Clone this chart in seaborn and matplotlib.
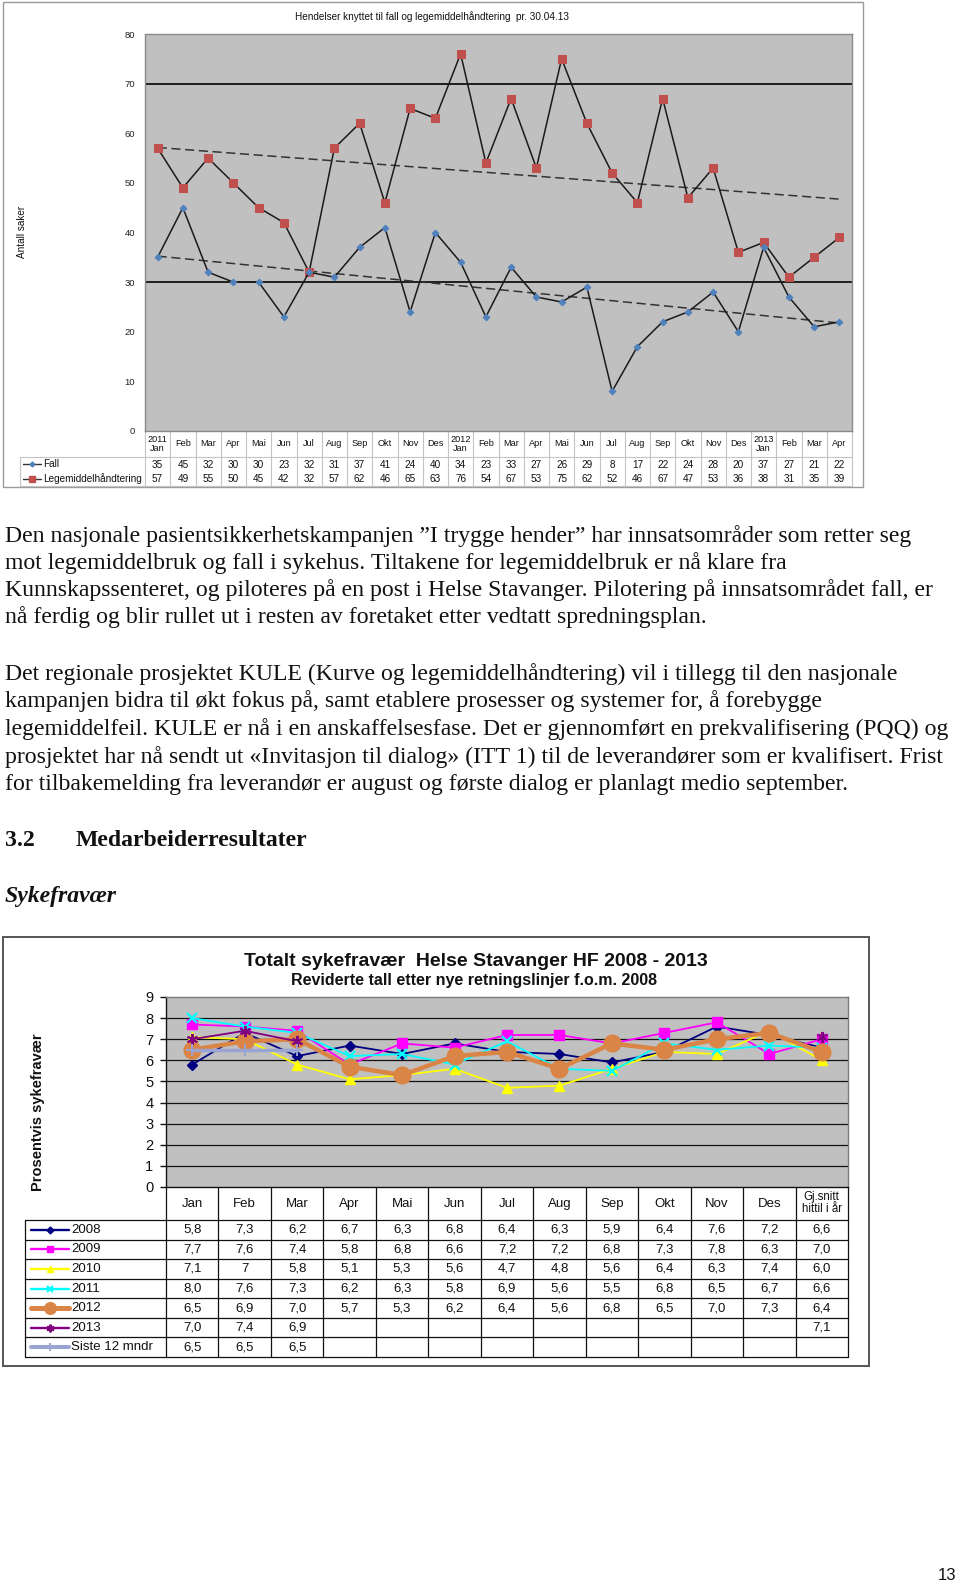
import numpy as np
import pandas as pd
import matplotlib
matplotlib.use("Agg")
import matplotlib.pyplot as plt
import matplotlib.transforms as mtrans
from matplotlib.patches import Rectangle
import seaborn as sns

sns.set_theme(style="white")
plt.rcParams["font.family"] = ["Liberation Sans", "DejaVu Sans"]

# ---------------- data: top chart ----------------
top_months = ["2011\nJan", "Feb", "Mar", "Apr", "Mai", "Jun", "Jul", "Aug", "Sep", "Okt", "Nov", "Des",
              "2012\nJan", "Feb", "Mar", "Apr", "Mai", "Jun", "Jul", "Aug", "Sep", "Okt", "Nov", "Des",
              "2013\nJan", "Feb", "Mar", "Apr"]
fall = [35, 45, 32, 30, 30, 23, 32, 31, 37, 41, 24, 40,
        34, 23, 33, 27, 26, 29, 8, 17, 22, 24, 28, 20,
        37, 27, 21, 22]
legemiddel = [57, 49, 55, 50, 45, 42, 32, 57, 62, 46, 65, 63,
              76, 54, 67, 53, 75, 62, 52, 46, 67, 47, 53, 36,
              38, 31, 35, 39]
top_title = "Hendelser knyttet til fall og legemiddelhåndtering  pr. 30.04.13"

# ---------------- data: bottom chart ----------------
bot_cats = ["Jan", "Feb", "Mar", "Apr", "Mai", "Jun", "Jul", "Aug", "Sep", "Okt", "Nov", "Des",
            "Gj.snitt\nhittil i år"]
y2008 = [5.8, 7.3, 6.2, 6.7, 6.3, 6.8, 6.4, 6.3, 5.9, 6.4, 7.6, 7.2, 6.6]
y2009 = [7.7, 7.6, 7.4, 5.8, 6.8, 6.6, 7.2, 7.2, 6.8, 7.3, 7.8, 6.3, 7.0]
y2010 = [7.1, 7.0, 5.8, 5.1, 5.3, 5.6, 4.7, 4.8, 5.6, 6.4, 6.3, 7.4, 6.0]
y2011 = [8.0, 7.6, 7.3, 6.2, 6.3, 5.8, 6.9, 5.6, 5.5, 6.8, 6.5, 6.7, 6.6]
y2012 = [6.5, 6.9, 7.0, 5.7, 5.3, 6.2, 6.4, 5.6, 6.8, 6.5, 7.0, 7.3, 6.4]
y2013 = [7.0, 7.4, 6.9, None, None, None, None, None, None, None, None, None, 7.1]
siste12 = [6.5, 6.5, 6.5, None, None, None, None, None, None, None, None, None, None]
series_names = ["2008", "2009", "2010", "2011", "2012", "2013", "Siste 12 mndr"]
series_vals = [y2008, y2009, y2010, y2011, y2012, y2013, siste12]

# ---------------- page text ----------------
para1 = ["Den nasjonale pasientsikkerhetskampanjen \u201dI trygge hender\u201d har innsatsområder som retter seg",
         "mot legemiddelbruk og fall i sykehus. Tiltakene for legemiddelbruk er nå klare fra",
         "Kunnskapssenteret, og piloteres på en post i Helse Stavanger. Pilotering på innsatsområdet fall, er",
         "nå ferdig og blir rullet ut i resten av foretaket etter vedtatt spredningsplan."]
para2 = ["Det regionale prosjektet KULE (Kurve og legemiddelhåndtering) vil i tillegg til den nasjonale",
         "kampanjen bidra til økt fokus på, samt etablere prosesser og systemer for, å forebygge",
         "legemiddelfeil. KULE er nå i en anskaffelsesfase. Det er gjennomført en prekvalifisering (PQQ) og",
         "prosjektet har nå sendt ut «Invitasjon til dialog» (ITT 1) til de leverandører som er kvalifisert. Frist",
         "for tilbakemelding fra leverandør er august og første dialog er planlagt medio september."]

W, H = 960, 1584
fig = plt.figure(figsize=(W / 100, H / 100), dpi=100)
fig.patch.set_facecolor("white")


def rect(x0, y0, x1, y1):
    return [x0 / W, 1 - y1 / H, (x1 - x0) / W, (y1 - y0) / H]


pg = fig.add_axes([0, 0, 1, 1])
pg.set_xlim(0, W)
pg.set_ylim(H, 0)
pg.axis("off")

# ================= TOP CHART =================
pg.add_patch(Rectangle((3, 2), 860, 485, fill=False, ec="#9a9a9a", lw=1.0))
ax1 = fig.add_axes(rect(145, 34, 852, 431))
ax1.set_facecolor("#C0C0C0")
x_top = np.arange(len(top_months))
df_top = pd.DataFrame({"x": x_top, "fall": fall, "lege": legemiddel})

ax1.axhline(30, color="#111111", lw=1.3, zorder=1)
ax1.axhline(70, color="#111111", lw=1.3, zorder=1)

for col, mk, mc, ms in [("lege", "s", "#C0504D", 5.2), ("fall", "D", "#4F81BD", 3.4)]:
    sns.lineplot(data=df_top, x="x", y=col, ax=ax1, color="#1a1a1a", lw=1.1,
                 marker=mk, markersize=ms, markerfacecolor=mc, markeredgecolor=mc, zorder=3)
    coef = np.polyfit(df_top["x"], df_top[col], 1)
    df_top[col + "_trend"] = np.polyval(coef, df_top["x"])
    sns.lineplot(data=df_top, x="x", y=col + "_trend", ax=ax1, color="#333333", lw=1.1,
                 linestyle=(0, (6, 3)), zorder=2)

ax1.set_xlim(-0.5, len(top_months) - 0.5)
ax1.set_ylim(0, 80)
ax1.set_yticks(range(0, 81, 10))
ax1.set_xticks([])
ax1.set_xlabel("")
ax1.set_ylabel("")
ax1.tick_params(axis="y", length=0, labelsize=6.8, labelcolor="#222222", pad=7)
for s in ax1.spines.values():
    s.set_color("#8a8a8a")
    s.set_linewidth(1.0)

pg.text(432, 17, top_title, ha="center", va="center", fontsize=7.2, color="#111111")
pg.text(22, 232, "Antall saker", rotation=90, ha="center", va="center", fontsize=7.2, color="#111111")

# table under top chart
tr1 = mtrans.blended_transform_factory(ax1.transData, pg.transData)
gc = "#C4C4C4"
pg.plot([20, 852], [457, 457], color=gc, lw=0.8)
pg.plot([20, 852], [486, 486], color=gc, lw=0.8)
pg.plot([20, 20], [457, 486], color=gc, lw=0.8)
for i in range(len(top_months) + 1):
    ax1.plot([i - 0.5, i - 0.5], [431, 486], color=gc, lw=0.8, transform=tr1, clip_on=False)
for i, m in enumerate(top_months):
    ax1.text(i, 444, m, transform=tr1, ha="center", va="center", fontsize=6.6, color="#111111",
             linespacing=0.95, clip_on=False)
    ax1.text(i, 465, str(fall[i]), transform=tr1, ha="center", va="center", fontsize=7.2, color="#111111")
    ax1.text(i, 479, str(legemiddel[i]), transform=tr1, ha="center", va="center", fontsize=7.2, color="#111111")
pg.plot([23, 41], [464, 464], color="#333333", lw=1.0)
pg.plot([32], [464], marker="D", ms=2.5, color="#4F81BD")
pg.text(43, 464, "Fall", ha="left", va="center", fontsize=7.2, color="#111111")
pg.plot([23, 41], [479, 479], color="#333333", lw=1.0)
pg.plot([32], [479], marker="s", ms=4, color="#C0504D")
pg.text(43, 479, "Legemiddelhåndtering", ha="left", va="center", fontsize=7.2, color="#111111")

# ================= PAGE TEXT =================
serif = ["Liberation Serif", "DejaVu Serif"]
fig.canvas.draw()
renderer = fig.canvas.get_renderer()
probe = pg.text(5, 534, para1[0], fontsize=14, family=serif)
wpx = probe.get_window_extent(renderer).width
probe.remove()
fs = 14 * 912 / wpx

ys1 = [534, 561, 588, 615]
ys2 = [672, 699, 727, 755, 782]
for y, line in zip(ys1, para1):
    pg.text(5, y, line, fontsize=fs, family=serif, ha="left", va="center_baseline", color="#111111")
for y, line in zip(ys2, para2):
    pg.text(5, y, line, fontsize=fs, family=serif, ha="left", va="center_baseline", color="#111111")
pg.text(5, 838, "3.2", fontsize=fs, family=serif, fontweight="bold", ha="left",
        va="center_baseline", color="#111111")
pg.text(76, 838, "Medarbeiderresultater", fontsize=fs, family=serif, fontweight="bold",
        ha="left", va="center_baseline", color="#111111")
pg.text(5, 894, "Sykefravær", fontsize=fs, family=serif, fontweight="bold", style="italic",
        ha="left", va="center_baseline", color="#111111")

# ================= BOTTOM CHART =================
pg.add_patch(Rectangle((3, 937), 866, 429, fill=False, ec="#555555", lw=1.4))
ax2 = fig.add_axes(rect(166, 997, 848, 1187))
ax2.set_facecolor("#C0C0C0")
x_bot = np.arange(len(bot_cats))
for yv in range(1, 9):
    ax2.axhline(yv, color="#111111", lw=0.9, zorder=1)

styles = {
    "2008": dict(color="#000080", lw=1.3, marker="D", markersize=5),
    "2009": dict(color="#FF00FF", lw=1.3, marker="s", markersize=7),
    "2010": dict(color="#FFFF00", lw=1.3, marker="^", markersize=7),
    "2011": dict(color="#00FFFF", lw=1.3, marker="x", markersize=7, markeredgewidth=1.6),
    "2012": dict(color="#DA8445", lw=3.2, marker="o", markersize=12),
    "2013": dict(color="#800080", lw=1.3, marker=(6, 2, 0), markersize=8, markeredgewidth=1.4),
    "Siste 12 mndr": dict(color="#9AA4D2", lw=2.5, marker="+", markersize=8, markeredgewidth=1.4),
}
for name, vals in zip(series_names, series_vals):
    st = dict(styles[name])
    st.setdefault("markeredgewidth", 1.0)
    st["markeredgecolor"] = st["color"]
    arr = np.array([np.nan if v is None else v for v in vals], dtype=float)
    seg_id = np.cumsum(np.isnan(arr))
    dfs = pd.DataFrame({"x": x_bot, "y": arr, "seg": seg_id}).dropna()
    for _, d in dfs.groupby("seg"):
        sns.lineplot(data=d, x="x", y="y", ax=ax2, zorder=3, **st)

ax2.set_xlim(-0.5, len(bot_cats) - 0.5)
ax2.set_ylim(0, 9)
ax2.set_yticks(range(0, 10))
ax2.set_xticks([])
ax2.set_xlabel("")
ax2.set_ylabel("")
ax2.tick_params(axis="y", direction="out", length=4, width=1, color="#111111", left=True,
                labelsize=10.5, labelcolor="#111111", pad=5)
for k, s in ax2.spines.items():
    s.set_color("#111111" if k in ("left", "bottom") else "#7a7a7a")
    s.set_linewidth(1.0)

pg.text(476, 962, "Totalt sykefravær  Helse Stavanger HF 2008 - 2013", ha="center", va="center",
        fontsize=14, fontweight="bold", color="#111111")
pg.text(474, 980, "Reviderte tall etter nye retningslinjer f.o.m. 2008", ha="center", va="center",
        fontsize=11.5, fontweight="bold", color="#111111")
pg.text(38, 1112, "Prosentvis sykefravær", rotation=90, ha="center", va="center", fontsize=10.5,
        fontweight="bold", color="#111111")

# table under bottom chart
tr2 = mtrans.blended_transform_factory(ax2.transData, pg.transData)
row_top = 1220
row_h = (1357 - 1220) / 7
for i in range(len(bot_cats) + 1):
    ax2.plot([i - 0.5, i - 0.5], [1187, 1357], color="#111111", lw=0.9, transform=tr2, clip_on=False)
for r in range(8):
    yy = row_top + r * row_h
    pg.plot([25, 848], [yy, yy], color="#111111", lw=0.9)
pg.plot([25, 25], [row_top, 1357], color="#111111", lw=0.9)
for i, c in enumerate(bot_cats):
    if "\n" in c:
        ax2.text(i, 1203, c, transform=tr2, ha="center", va="center", fontsize=8.3, linespacing=0.9,
                 color="#111111", clip_on=False)
    else:
        ax2.text(i, 1204, c, transform=tr2, ha="center", va="center", fontsize=9.5, color="#111111",
                 clip_on=False)
for r, (name, vals) in enumerate(zip(series_names, series_vals)):
    yc = row_top + (r + 0.5) * row_h
    for i, v in enumerate(vals):
        if v is None:
            continue
        txt = "7" if (name == "2010" and i == 1) else f"{v:.1f}".replace(".", ",")
        ax2.text(i, yc, txt, transform=tr2, ha="center", va="center", fontsize=9.5, color="#111111",
                 clip_on=False)
    st = styles[name]
    pg.plot([31, 69], [yc, yc], color=st["color"], lw=min(st["lw"] + 0.4, 4))
    pg.plot([50], [yc], marker=st["marker"], ms=st["markersize"] * 0.7, color=st["color"],
            mec=st["color"], mew=st.get("markeredgewidth", 1.0))
    pg.text(71, yc, name, ha="left", va="center", fontsize=9.5, color="#111111")

# page number
pg.text(947, 1575, "13", ha="center", va="center", fontsize=12, color="#111111")

fig.savefig("out.png", dpi=100, facecolor="white")
